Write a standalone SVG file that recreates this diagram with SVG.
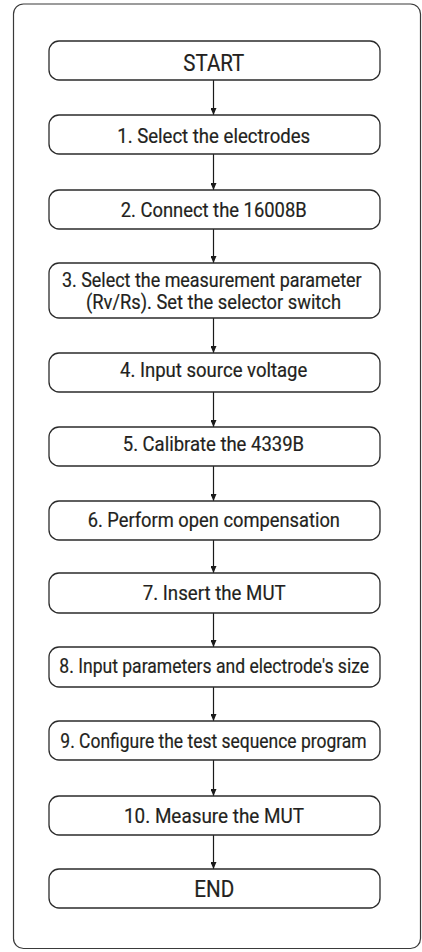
<svg xmlns="http://www.w3.org/2000/svg" width="422" height="952" viewBox="0 0 422 952">
<defs>
<style>
.frame{fill:#fff;stroke:#3a3a3a;stroke-width:1.2}
.box{fill:#fff;stroke:#2b2b2b;stroke-width:1.3}
.t{font-family:Roboto,"Liberation Sans",Arial,sans-serif;font-weight:400;font-size:20px;fill:#231f20;stroke:#231f20;stroke-width:0.2;text-anchor:middle}
.big{font-size:23px}
.c{stroke:#1a1a1a;stroke-width:1.2;fill:none;marker-end:url(#ah)}
</style>
<marker id="ah" viewBox="0 0 7 6" refX="7" refY="3" markerWidth="7" markerHeight="6" markerUnits="userSpaceOnUse" orient="auto">
<path d="M0,0 L7,3 L0,6 Z" fill="#1a1a1a"/>
</marker>
</defs>
<rect width="422" height="952" fill="#fff"/>
<rect class="frame" x="13.5" y="4" width="407" height="944.5" rx="10" ry="10"/>
<g id="connectors">
<line class="c" x1="213.5" y1="80" x2="213.5" y2="115"/>
<line class="c" x1="213.5" y1="154" x2="213.5" y2="190"/>
<line class="c" x1="213.5" y1="229" x2="213.5" y2="263"/>
<line class="c" x1="213.5" y1="318" x2="213.5" y2="353"/>
<line class="c" x1="213.5" y1="392" x2="213.5" y2="427"/>
<line class="c" x1="213.5" y1="466" x2="213.5" y2="501"/>
<line class="c" x1="213.5" y1="540" x2="213.5" y2="573"/>
<line class="c" x1="213.5" y1="613" x2="213.5" y2="647"/>
<line class="c" x1="213.5" y1="687" x2="213.5" y2="721"/>
<line class="c" x1="213.5" y1="760" x2="213.5" y2="796"/>
<line class="c" x1="213.5" y1="835" x2="213.5" y2="869"/>
</g>
<g id="start"><rect class="box" x="49" y="41" width="331" height="39" rx="10"/><text class="t big" x="213.8" y="70.5" textLength="61" lengthAdjust="spacingAndGlyphs">START</text></g>
<g id="step1"><rect class="box" x="49" y="115" width="331" height="39" rx="10"/><text class="t" x="213.7" y="143.3" textLength="193" lengthAdjust="spacingAndGlyphs">1. Select the electrodes</text></g>
<g id="step2"><rect class="box" x="49" y="190" width="331" height="39" rx="10"/><text class="t" x="213.7" y="216.7" textLength="186" lengthAdjust="spacingAndGlyphs">2. Connect the 16008B</text></g>
<g id="step3"><rect class="box" x="49" y="263" width="331" height="55" rx="10"/><text class="t" x="211.8" y="287" textLength="299.7" lengthAdjust="spacingAndGlyphs">3. Select the measurement parameter</text><text class="t" x="213.5" y="309" textLength="255" lengthAdjust="spacingAndGlyphs">(Rv/Rs). Set the selector switch</text></g>
<g id="step4"><rect class="box" x="49" y="353" width="331" height="39" rx="10"/><text class="t" x="213.7" y="377" textLength="187.3" lengthAdjust="spacingAndGlyphs">4. Input source voltage</text></g>
<g id="step5"><rect class="box" x="49" y="427" width="331" height="39" rx="10"/><text class="t" x="213.4" y="451.3" textLength="181.3" lengthAdjust="spacingAndGlyphs">5. Calibrate the 4339B</text></g>
<g id="step6"><rect class="box" x="49" y="501" width="331" height="39" rx="10"/><text class="t" x="213.8" y="526.7" textLength="252.3" lengthAdjust="spacingAndGlyphs">6. Perform open compensation</text></g>
<g id="step7"><rect class="box" x="49" y="573" width="331" height="40" rx="10"/><text class="t" x="214.2" y="600" textLength="143" lengthAdjust="spacingAndGlyphs">7. Insert the MUT</text></g>
<g id="step8"><rect class="box" x="49" y="647" width="331" height="40" rx="10"/><text class="t" x="214.2" y="673.3" textLength="309.7" lengthAdjust="spacingAndGlyphs">8. Input parameters and electrode's size</text></g>
<g id="step9"><rect class="box" x="49" y="721" width="331" height="39" rx="10"/><text class="t" x="213.5" y="747.7" textLength="306.3" lengthAdjust="spacingAndGlyphs">9. Configure the test sequence program</text></g>
<g id="step10"><rect class="box" x="49" y="796" width="331" height="39" rx="10"/><text class="t" x="214" y="822.7" textLength="180" lengthAdjust="spacingAndGlyphs">10. Measure the MUT</text></g>
<g id="end"><rect class="box" x="49" y="869" width="331" height="39" rx="10"/><text class="t big" x="214.3" y="897.3" textLength="40" lengthAdjust="spacingAndGlyphs">END</text></g>
</svg>
